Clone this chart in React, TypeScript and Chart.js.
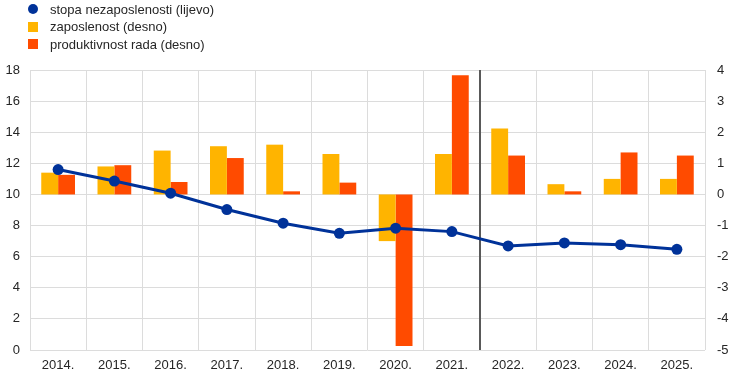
import React, { useEffect, useRef } from "react";
import { Chart, registerables } from "chart.js";

Chart.register(...registerables);

const categories = ["2014.", "2015.", "2016.", "2017.", "2018.", "2019.", "2020.", "2021.", "2022.", "2023.", "2024.", "2025."];
const unemploymentRate = [11.6, 10.86, 10.08, 9.03, 8.15, 7.5, 7.83, 7.61, 6.69, 6.88, 6.77, 6.47];
const employment = [0.7, 0.9, 1.41, 1.55, 1.6, 1.3, -1.5, 1.3, 2.12, 0.33, 0.5, 0.5];
const productivity = [0.63, 0.94, 0.4, 1.17, 0.1, 0.38, -4.87, 3.83, 1.25, 0.1, 1.35, 1.25];
const seriesLabels = ["stopa nezaposlenosti (lijevo)", "zaposlenost (desno)", "produktivnost rada (desno)"];

const BLUE = "#003299";
const YELLOW = "#FFB400";
const ORANGE = "#FF4B00";
const FONT = "'Liberation Sans', Arial, sans-serif";
const TEXT = "#262626";
const GRID = "#dcdcdc";

const projectionLine = {
  id: "projectionLine",
  beforeDatasetsDraw(chart: any) {
    const x = chart.scales.x;
    const area = chart.chartArea;
    const px = (x.getPixelForValue(7) + x.getPixelForValue(8)) / 2;
    const ctx = chart.ctx;
    ctx.save();
    ctx.strokeStyle = "#595959";
    ctx.lineWidth = 2;
    ctx.beginPath();
    ctx.moveTo(px, area.top);
    ctx.lineTo(px, area.bottom);
    ctx.stroke();
    ctx.restore();
  },
};

export default function App() {
  const ref = useRef<HTMLCanvasElement>(null);

  useEffect(() => {
    document.body.style.margin = "0";
    const chart = new Chart(ref.current!, {
      type: "bar",
      data: {
        labels: categories,
        datasets: [
          {
            type: "line",
            label: seriesLabels[0],
            data: unemploymentRate,
            yAxisID: "y",
            borderColor: BLUE,
            backgroundColor: BLUE,
            borderWidth: 3,
            pointRadius: 5.5,
            pointBackgroundColor: BLUE,
            pointBorderWidth: 0,
            tension: 0,
            order: 0,
          } as any,
          {
            type: "bar",
            label: seriesLabels[1],
            data: employment,
            yAxisID: "y1",
            backgroundColor: YELLOW,
            categoryPercentage: 0.6,
            barPercentage: 1,
            order: 1,
          },
          {
            type: "bar",
            label: seriesLabels[2],
            data: productivity,
            yAxisID: "y1",
            backgroundColor: ORANGE,
            categoryPercentage: 0.6,
            barPercentage: 1,
            order: 1,
          },
        ],
      },
      options: {
        responsive: false,
        animation: false,
        devicePixelRatio: 1,
        layout: { padding: { top: 70, left: 0, right: 0, bottom: 0 } },
        plugins: { legend: { display: false }, tooltip: { enabled: false } },
        scales: {
          x: {
            offset: true,
            grid: { offset: true, color: GRID, lineWidth: 1, drawTicks: false },
            border: { display: false },
            ticks: { color: TEXT, font: { family: FONT, size: 13 }, padding: 8, maxRotation: 0 },
            afterFit: (s: any) => { s.height = 30; },
          },
          y: {
            position: "left",
            min: 0,
            max: 18,
            ticks: { stepSize: 2, color: TEXT, font: { family: FONT, size: 13 }, padding: 10 },
            grid: { color: GRID, lineWidth: 1, drawTicks: false },
            border: { display: false },
            afterFit: (s: any) => { s.width = 30; },
          },
          y1: {
            position: "right",
            min: -5,
            max: 4,
            ticks: { stepSize: 1, color: TEXT, font: { family: FONT, size: 13 }, padding: 12 },
            grid: { display: false, drawTicks: false },
            border: { display: false },
            afterFit: (s: any) => { s.width = 39; },
          },
        },
      } as any,
      plugins: [projectionLine],
    });
    return () => chart.destroy();
  }, []);

  const legendRow = (marker: React.ReactNode, text: string, top: number) => (
    <div style={{ position: "absolute", left: 0, top, height: 18, display: "flex", alignItems: "center" }}>
      <div style={{ width: 50, position: "relative", height: 18 }}>{marker}</div>
      <span style={{ fontFamily: FONT, fontSize: 13, color: TEXT, whiteSpace: "nowrap" }}>{text}</span>
    </div>
  );

  return (
    <div style={{ position: "relative", width: 744, height: 380 }}>
      <canvas ref={ref} width={744} height={380} style={{ display: "block" }} />
      {legendRow(
        <div style={{ position: "absolute", left: 28, top: 4, width: 10, height: 10, borderRadius: 5, background: BLUE }} />,
        seriesLabels[0],
        0
      )}
      {legendRow(
        <div style={{ position: "absolute", left: 28, top: 4, width: 10, height: 10, background: YELLOW }} />,
        seriesLabels[1],
        17.5
      )}
      {legendRow(
        <div style={{ position: "absolute", left: 28, top: 4, width: 10, height: 10, background: ORANGE }} />,
        seriesLabels[2],
        35
      )}
    </div>
  );
}
